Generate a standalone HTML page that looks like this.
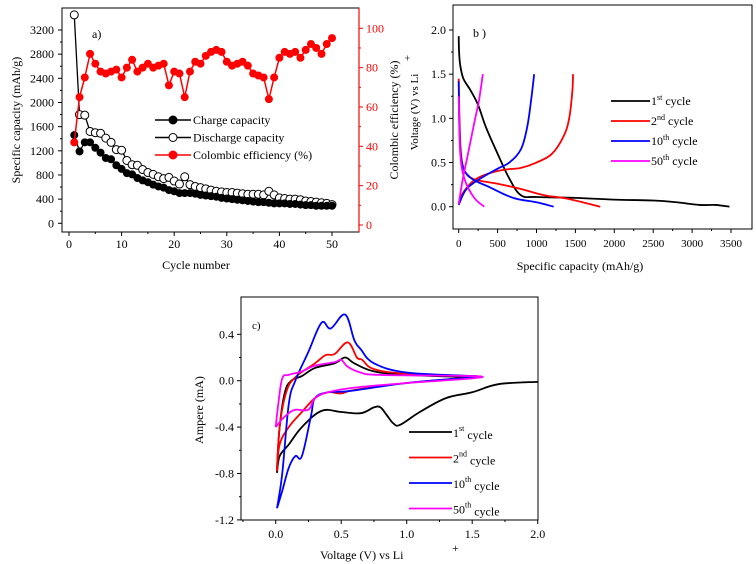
<!DOCTYPE html>
<html><head><meta charset="utf-8"><style>
body{margin:0;background:#fff;}
svg{display:block;font-family:"Liberation Serif",serif;}
</style></head><body>
<svg id="fig" width="756" height="564" viewBox="0 0 756 564"></svg>
<script>
// ---------- Panel a data ----------
const cyclesA = Array.from({length:50},(_,i)=>i+1);
const chargeCap = [1460,1190,1340,1340,1250,1170,1080,1060,960,900,830,810,750,710,680,640,610,590,550,530,500,500,500,490,470,460,450,440,420,410,400,390,380,370,360,350,350,340,330,330,330,320,320,310,300,300,290,290,290,290];
const dischargeCap = [3450,1800,1790,1520,1500,1490,1410,1340,1220,1210,1040,970,960,890,840,810,770,740,760,700,650,770,640,610,590,570,550,530,520,510,510,500,490,480,480,480,470,530,470,420,410,400,400,390,370,360,350,340,330,310];
const efficiency = [42,65,75,87,82,78,77,78,79,75,80,84,78,80,82,80,81,82,71,78,77,65,78,83,82,86,88,89,88,83,81,82,83,81,77,76,75,64,75,85,88,87,88,85,89,92,90,87,92,95];
const aXTicks = [0,10,20,30,40,50];
const aYTicks = [0,400,800,1200,1600,2000,2400,2800,3200];
const aY2Ticks = [0,20,40,60,80,100];
// ---------- Panel b data ----------
const bXTicks = [0,500,1000,1500,2000,2500,3000,3500];
const bYTicks = [0.0,0.5,1.0,1.5,2.0];
const bCycle1 = [[[0,1.93],[5,1.75],[20,1.6],[60,1.45],[150,1.32],[250,1.15],[350,0.9],[500,0.6],[650,0.32],[800,0.13],[1000,0.11],[1500,0.1],[2000,0.08],[2500,0.07],[2800,0.05],[3100,0.02],[3300,0.02],[3480,0.0]]];
const bCycle2 = [[[0,1.45],[10,1.0],[30,0.6],[80,0.4],[200,0.31],[500,0.26],[800,0.2],[1100,0.13],[1400,0.09],[1820,0.0]],[[0,0.03],[50,0.15],[200,0.3],[400,0.38],[600,0.42],[800,0.44],[1000,0.5],[1200,0.6],[1350,0.8],[1420,1.0],[1460,1.3],[1470,1.5]]];
const bCycle10 = [[[0,1.42],[10,0.9],[40,0.5],[150,0.33],[400,0.22],[700,0.1],[1000,0.05],[1220,0.0]],[[0,0.02],[100,0.2],[300,0.33],[500,0.43],[650,0.5],[800,0.65],[880,0.9],[930,1.2],[970,1.5]]];
const bCycle50 = [[[0,1.25],[20,0.6],[80,0.3],[200,0.1],[330,0.0]],[[0,0.03],[50,0.3],[120,0.6],[200,0.95],[260,1.2],[310,1.5]]];
// ---------- Panel c data ----------
const cXTicks = [0.0,0.5,1.0,1.5,2.0];
const cYTicks = [-1.2,-0.8,-0.4,0.0,0.4];
const cCycle1 = [[2.0,-0.01],[1.7,-0.03],[1.5,-0.1],[1.3,-0.15],[1.1,-0.27],[0.95,-0.38],[0.9,-0.37],[0.85,-0.3],[0.8,-0.23],[0.75,-0.23],[0.65,-0.28],[0.5,-0.27],[0.35,-0.26],[0.2,-0.4],[0.1,-0.55],[0.03,-0.65],[0.01,-0.78],[0.03,-0.4],[0.07,-0.1],[0.12,0.0],[0.2,0.04],[0.3,0.11],[0.45,0.15],[0.53,0.2],[0.6,0.15],[0.75,0.08],[1.0,0.05],[1.5,0.03]];
const cCycle2 = [[0.01,-0.78],[0.03,-0.4],[0.08,-0.1],[0.15,0.03],[0.3,0.15],[0.38,0.22],[0.45,0.23],[0.55,0.33],[0.62,0.2],[0.66,0.18],[0.75,0.1],[1.0,0.06],[1.5,0.04],[1.5,0.03],[1.0,-0.02],[0.6,-0.08],[0.5,-0.11],[0.4,-0.1],[0.3,-0.15],[0.2,-0.27],[0.1,-0.4],[0.03,-0.55],[0.01,-0.78]];
const cCycle10 = [[0.01,-1.1],[0.05,-0.8],[0.1,-0.2],[0.15,0.0],[0.25,0.25],[0.35,0.5],[0.42,0.45],[0.53,0.57],[0.6,0.35],[0.65,0.27],[0.75,0.15],[1.0,0.07],[1.5,0.04],[1.5,0.03],[1.0,-0.02],[0.56,-0.09],[0.4,-0.1],[0.3,-0.15],[0.27,-0.3],[0.2,-0.65],[0.15,-0.65],[0.1,-0.75],[0.05,-0.95],[0.01,-1.1]];
const cCycle50 = [[0.0,-0.4],[0.02,-0.2],[0.05,0.02],[0.1,0.05],[0.2,0.08],[0.3,0.13],[0.45,0.16],[0.5,0.18],[0.55,0.12],[0.65,0.07],[0.8,0.05],[1.5,0.04],[1.5,0.02],[1.0,-0.02],[0.6,-0.06],[0.4,-0.1],[0.3,-0.15],[0.25,-0.25],[0.15,-0.25],[0.1,-0.28],[0.05,-0.33],[0.0,-0.4]];

const NS="http://www.w3.org/2000/svg";
const svg=document.getElementById('fig');
function mk(tag,attrs,parent,text){const e=document.createElementNS(NS,tag);for(const k in attrs)e.setAttribute(k,attrs[k]);if(text!==undefined)e.textContent=text;(parent||svg).appendChild(e);return e;}
function grp(name){const g=mk('g',{});


return g;}
function lin(d0,d1,r0,r1){return v=>r0+(v-d0)*(r1-r0)/(d1-d0);}
function smooth(pts){let d=`M${pts[0][0]},${pts[0][1]}`;for(let i=0;i<pts.length-1;i++){const p0=pts[i-1]||pts[i],p1=pts[i],p2=pts[i+1],p3=pts[i+2]||p2;const t=0.18;d+=` C${p1[0]+(p2[0]-p0[0])*t},${p1[1]+(p2[1]-p0[1])*t} ${p2[0]-(p3[0]-p1[0])*t},${p2[1]-(p3[1]-p1[1])*t} ${p2[0]},${p2[1]}`;}return d;}
function frame(g,x0,y0,x1,y1){mk('rect',{x:x0,y:y0,width:x1-x0,height:y1-y0,fill:'none',stroke:'#000','stroke-width':1},g);}

// ===== Panel a =====
{
const g=grp('panel-a-chart');
const X=lin(0,50,69,332), Y=lin(0,3200,223.3,30), Y2=lin(0,100,225,28.3);
frame(g,62,8,359,232);
const ax=grp('a-x-axis');
aXTicks.forEach(t=>{mk('line',{x1:X(t),x2:X(t),y1:232,y2:236,stroke:'#000'},ax);mk('text',{x:X(t),y:248,'text-anchor':'middle','font-size':12},ax,t);});
for(let t=5;t<55;t+=10)mk('line',{x1:X(t),x2:X(t),y1:232,y2:234,stroke:'#000'},ax);
mk('text',{x:196,y:269,'text-anchor':'middle','font-size':12},ax,'Cycle number');
const ay=grp('a-y-axis-left');
aYTicks.forEach(t=>{mk('line',{x1:58,x2:62,y1:Y(t),y2:Y(t),stroke:'#000'},ay);mk('text',{x:54,y:Y(t)+4,'text-anchor':'end','font-size':12},ay,t);});
for(let t=200;t<3400;t+=400)mk('line',{x1:60,x2:62,y1:Y(t),y2:Y(t),stroke:'#000'},ay);
mk('text',{transform:'translate(20,120) rotate(-90)','text-anchor':'middle','font-size':12},ay,'Specific capacity (mAh/g)');
const ay2=grp('a-y-axis-right');
mk('line',{x1:359,x2:359,y1:8,y2:232,stroke:'#f00','stroke-width':1.2},ay2);
aY2Ticks.forEach(t=>{mk('line',{x1:359,x2:363,y1:Y2(t),y2:Y2(t),stroke:'#f00'},ay2);mk('text',{x:366,y:Y2(t)+4,'font-size':12,fill:'#f00'},ay2,t);});
for(let t=10;t<110;t+=20)mk('line',{x1:359,x2:361,y1:Y2(t),y2:Y2(t),stroke:'#f00'},ay2);
mk('text',{transform:'translate(398,120) rotate(-90)','text-anchor':'middle','font-size':12},ay2,'Colombic efficiency (%)');
mk('text',{x:92,y:38,'font-size':12},g,'a)');
const sd=grp('discharge-series');
mk('polyline',{points:cyclesA.map((c,i)=>X(c)+','+Y(dischargeCap[i])).join(' '),fill:'none',stroke:'#000','stroke-width':1.3},sd);
cyclesA.forEach((c,i)=>{const e=mk('circle',{cx:X(c),cy:Y(dischargeCap[i]),r:4,fill:'#fff',stroke:'#000','stroke-width':1},sd);

});
const sc=grp('charge-series');
mk('polyline',{points:cyclesA.map((c,i)=>X(c)+','+Y(chargeCap[i])).join(' '),fill:'none',stroke:'#000','stroke-width':1.3},sc);
cyclesA.forEach((c,i)=>{const e=mk('circle',{cx:X(c),cy:Y(chargeCap[i]),r:4,fill:'#000'},sc);

});
const se=grp('efficiency-series');
mk('polyline',{points:cyclesA.map((c,i)=>X(c)+','+Y2(efficiency[i])).join(' '),fill:'none',stroke:'#f00','stroke-width':1.5},se);
cyclesA.forEach((c,i)=>{const e=mk('circle',{cx:X(c),cy:Y2(efficiency[i]),r:4,fill:'#f00'},se);

});
const lg=grp('a-legend');
[['Charge capacity','#000','#000'],['Discharge capacity','#000','#fff'],['Colombic efficiency (%)','#f00','#f00']].forEach((l,i)=>{const y=120+i*17.5;mk('line',{x1:155,x2:191,y1:y,y2:y,stroke:l[1],'stroke-width':1.5},lg);mk('circle',{cx:173,cy:y,r:4,fill:l[2],stroke:l[1]},lg);mk('text',{x:193,y:y+4,'font-size':12},lg,l[0]);});
}

// ===== Panel b =====
{
const g=grp('panel-b-chart');
const X=lin(0,3500,458.7,731), Y=lin(0,2,206.7,30);
frame(g,453,5,752,229);
const ax=grp('b-x-axis');
bXTicks.forEach(t=>{mk('line',{x1:X(t),x2:X(t),y1:229,y2:233,stroke:'#000'},ax);mk('text',{x:X(t),y:247,'text-anchor':'middle','font-size':11},ax,t);});
for(let t=250;t<3500;t+=500)mk('line',{x1:X(t),x2:X(t),y1:229,y2:231,stroke:'#000'},ax);
mk('text',{x:580,y:270,'text-anchor':'middle','font-size':12},ax,'Specific capacity (mAh/g)');
const ay=grp('b-y-axis');
bYTicks.forEach(t=>{mk('line',{x1:449,x2:453,y1:Y(t),y2:Y(t),stroke:'#000'},ay);mk('text',{x:446,y:Y(t)+4,'text-anchor':'end','font-size':12},ay,t.toFixed(1));});
for(let t=0.25;t<2.1;t+=0.5)mk('line',{x1:451,x2:453,y1:Y(t),y2:Y(t),stroke:'#000'},ay);
mk('text',{transform:'translate(418,112) rotate(-90)','text-anchor':'middle','font-size':11},ay,'Voltage (V) vs Li');
mk('text',{transform:'translate(411,58) rotate(-90)','text-anchor':'middle','font-size':11},ay,'+');
mk('text',{x:473,y:37,'font-size':12},g,'b  )');
[[bCycle1,'#000','cycle-1-curve'],[bCycle2,'#f00','cycle-2-curve'],[bCycle10,'#00f','cycle-10-curve'],[bCycle50,'#f0f','cycle-50-curve']].forEach(s=>{const sg=grp(s[2]);s[0].forEach(br=>mk('path',{d:smooth(br.map(p=>[X(p[0]),Y(p[1])])),fill:'none',stroke:s[1],'stroke-width':1.8},sg));});
const lg=grp('b-legend');
[['1','st','#000'],['2','nd','#f00'],['10','th','#00f'],['50','th','#f0f']].forEach((l,i)=>{const y=101+i*20;mk('line',{x1:611,x2:650,y1:y,y2:y,stroke:l[2],'stroke-width':1.8},lg);const t=mk('text',{x:651,y:y+4,'font-size':12},lg);mk('tspan',{},t,l[0]);mk('tspan',{dy:-5,'font-size':8},t,l[1]);mk('tspan',{dy:5},t,' cycle');});
}

// ===== Panel c =====
{
const g=grp('panel-c-chart');
const X=lin(0,2,275.7,537.7), Y=lin(0,0.4,380.7,334.3);
frame(g,241,297,538,520);
const ax=grp('c-x-axis');
cXTicks.forEach(t=>{mk('line',{x1:X(t),x2:X(t),y1:520,y2:524,stroke:'#000'},ax);mk('text',{x:X(t),y:538,'text-anchor':'middle','font-size':12},ax,t.toFixed(1));});
for(let t=-0.25;t<2;t+=0.5)mk('line',{x1:X(t),x2:X(t),y1:520,y2:522,stroke:'#000'},ax);
mk('text',{x:320,y:559,'font-size':12},ax,'Voltage (V) vs Li');
mk('text',{x:452,y:552,'font-size':12},ax,'+');
const ay=grp('c-y-axis');
cYTicks.forEach(t=>{mk('line',{x1:237,x2:241,y1:Y(t),y2:Y(t),stroke:'#000'},ay);mk('text',{x:234,y:Y(t)+4,'text-anchor':'end','font-size':12},ay,t.toFixed(1));});
for(let t=-1.0;t<0.6;t+=0.4)mk('line',{x1:239,x2:241,y1:Y(t),y2:Y(t),stroke:'#000'},ay);
mk('text',{transform:'translate(203,410) rotate(-90)','text-anchor':'middle','font-size':12},ay,'Ampere (mA)');
mk('text',{x:252,y:329,'font-size':11},g,'c)');
[[cCycle1,'#000','cv-cycle-1'],[cCycle2,'#f00','cv-cycle-2'],[cCycle10,'#00f','cv-cycle-10'],[cCycle50,'#f0f','cv-cycle-50']].forEach(s=>{const sg=grp(s[2]);mk('path',{d:smooth(s[0].map(p=>[X(p[0]),Y(p[1])])),fill:'none',stroke:s[1],'stroke-width':1.8},sg);});
const lg=grp('c-legend');
[['1','st','#000'],['2','nd','#f00'],['10','th','#00f'],['50','th','#f0f']].forEach((l,i)=>{const y=432+i*25.5;mk('line',{x1:409,x2:452,y1:y,y2:y,stroke:l[2],'stroke-width':1.8},lg);const t=mk('text',{x:453,y:y+5,'font-size':12},lg);mk('tspan',{},t,l[0]);mk('tspan',{dy:-6,'font-size':8},t,l[1]);mk('tspan',{dy:8},t,'  cycle');});
}
</script>
</body></html>
